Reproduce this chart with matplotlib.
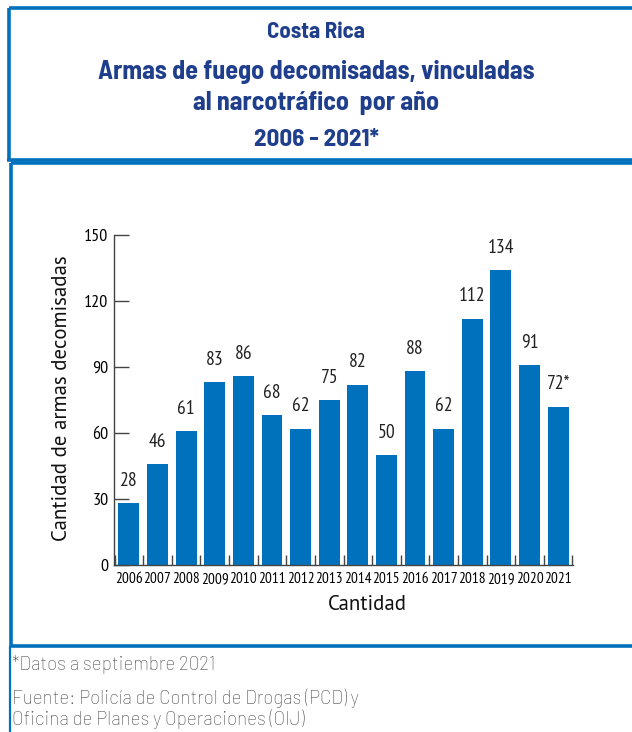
import matplotlib
matplotlib.use("Agg")
import matplotlib.pyplot as plt
from matplotlib.lines import Line2D

# data
years = ["2006", "2007", "2008", "2009", "2010", "2011", "2012", "2013",
         "2014", "2015", "2016", "2017", "2018", "2019", "2020", "2021"]
armas = [28, 46, 61, 83, 86, 68, 62, 75, 82, 50, 88, 62, 112, 134, 91, 72]
etiquetas = [str(v) for v in armas[:-1]] + ["72*"]
y_ticks = [0, 30, 60, 90, 120, 150]

azul = "#0071bc"
azul_titulo = "#1f3e8c"
titulo_font = ["Barlow Semi Condensed", "DejaVu Sans"]
narrow = ["PT Sans Narrow", "DejaVu Sans"]
normal = ["PT Sans", "DejaVu Sans"]
nota_font = ["Barlow", "DejaVu Sans"]

fig = plt.figure(figsize=(6.32, 7.32), dpi=100)
W, H = 632, 732


def fx(px):
    return px / W


def fy(py):
    return 1 - py / H


# frames
def linea(x0, y0, x1, y1, lw=2.6, color=azul):
    fig.add_artist(Line2D([fx(x0), fx(x1)], [fy(y0), fy(y1)], color=color,
                          lw=lw, transform=fig.transFigure, solid_capstyle="butt"))


linea(8.5, 7.5, 640, 7.5)
linea(8.5, 7.5, 8.5, 160)
linea(7, 160, 640, 160)
linea(11, 163, 640, 163)
linea(11, 163, 11, 646)
linea(9.5, 646, 640, 646)
linea(10.5, 646, 10.5, 732, lw=1.6)

# title
fig.text(0.5, fy(32), "Costa Rica", ha="center", va="center",
         fontsize=16.5, fontweight="bold", color=azul_titulo, family=titulo_font)
fig.text(0.5, fy(72), "Armas de fuego decomisadas, vinculadas", ha="center",
         va="center", fontsize=18.8, fontweight="bold", color=azul_titulo, family=titulo_font)
fig.text(0.5, fy(103), "al narcotráfico  por año", ha="center", va="center",
         fontsize=18.8, fontweight="bold", color=azul_titulo, family=titulo_font)
fig.text(0.5, fy(140), "2006 - 2021*", ha="center", va="center",
         fontsize=18, fontweight="bold", color=azul_titulo, family=titulo_font)

# chart
ax = fig.add_axes([fx(114), fy(565), fx(573) - fx(114), fy(235) - fy(565)])
x = list(range(len(years)))
ax.bar(x, armas, width=0.73, color=azul, zorder=2)
for xi, v, t in zip(x, armas, etiquetas):
    ax.text(xi, v + 6, t, ha="center", va="bottom", fontsize=14, family=narrow,
            color="#222222")

ax.set_xlim(-0.52, 15.52)
ax.set_ylim(0, 150)
ax.set_yticks(y_ticks)
ax.set_yticklabels([str(t) for t in y_ticks], fontsize=13, family=narrow)
ax.set_xticks(x)
ax.set_xticklabels(years, fontsize=11, family=narrow)
ax.set_xticks([i + 0.5 for i in range(-1, 16)], minor=True)
ax.tick_params(axis="x", which="major", length=0, pad=5)
ax.tick_params(axis="x", which="minor", direction="in", length=7, width=1, color="#444444")
ax.tick_params(axis="y", direction="in", length=11, width=1, color="#444444", pad=4)
for s in ["top", "right"]:
    ax.spines[s].set_visible(False)
for s in ["left", "bottom"]:
    ax.spines[s].set_color("#444444")
    ax.spines[s].set_linewidth(1)

fig.text(fx(62), fy(398), "Cantidad de armas decomisadas", rotation=90,
         ha="center", va="center", fontsize=15, color="#111111", family=normal)
fig.text(fx(367), fy(604), "Cantidad", ha="center", va="center", fontsize=15,
         color="#111111", family=normal)

# notes
gris = "#4d4d4d"
fig.text(fx(12), fy(665), "*Datos a septiembre 2021", ha="left", va="center",
         fontsize=13.5, color=gris, family=nota_font, fontweight="light")
fig.text(fx(12), fy(698), "Fuente: Policía de Control de Drogas (PCD) y",
         ha="left", va="center", fontsize=13.5, color=gris, family=nota_font,
         fontweight="light")
fig.text(fx(12), fy(719), "Oficina de Planes y Operaciones (OIJ)", ha="left",
         va="center", fontsize=13.5, color=gris, family=nota_font, fontweight="light")

plt.savefig("out.png", dpi=100)
